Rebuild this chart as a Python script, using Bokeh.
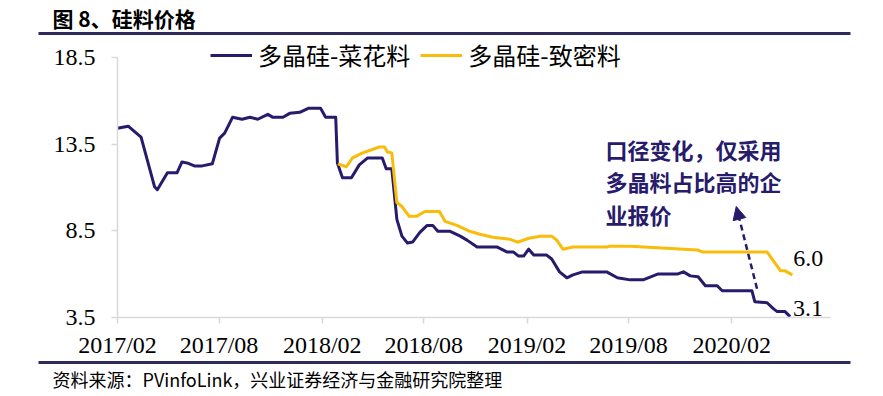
import pandas as pd
from bokeh.plotting import figure
from bokeh.layouts import column, row
from bokeh.core.properties import value
from bokeh.models import (FixedTicker, DatetimeTickFormatter, Label, Legend, LegendItem,
                          Arrow, NormalHead, Range1d)
from bokeh.embed import file_html
from bokeh.resources import INLINE

# ---------------- data ----------------
series_names = ["多晶硅-菜花料", "多晶硅-致密料"]

flake_dates = [
    "2017-02-01", "2017-02-20", "2017-03-15", "2017-04-08", "2017-04-13", "2017-05-01",
    "2017-05-18", "2017-05-27", "2017-06-06", "2017-06-18", "2017-07-02", "2017-07-20",
    "2017-08-02", "2017-08-11", "2017-08-25", "2017-09-11", "2017-09-25", "2017-10-09",
    "2017-10-27", "2017-11-05", "2017-11-23", "2017-12-05", "2017-12-23", "2018-01-07",
    "2018-01-29", "2018-02-07", "2018-02-25", "2018-02-28", "2018-03-09", "2018-03-25",
    "2018-04-08", "2018-04-23", "2018-05-19", "2018-05-26", "2018-06-05", "2018-06-14",
    "2018-06-23", "2018-07-03", "2018-07-12", "2018-07-25", "2018-08-07", "2018-08-17",
    "2018-08-26", "2018-09-17", "2018-10-05", "2018-10-17", "2018-11-04", "2018-12-10",
    "2018-12-28", "2019-01-08", "2019-01-17", "2019-01-26", "2019-02-04", "2019-02-13",
    "2019-03-08", "2019-03-17", "2019-03-31", "2019-04-13", "2019-04-24", "2019-05-11",
    "2019-06-23", "2019-07-12", "2019-08-04", "2019-08-27", "2019-09-23", "2019-10-28",
    "2019-11-07", "2019-11-19", "2019-12-03", "2019-12-16", "2020-01-06", "2020-01-15",
    "2020-03-08", "2020-03-13", "2020-04-04", "2020-04-15", "2020-04-22", "2020-05-06",
    "2020-05-15",
]
flake_values = [
    14.41, 14.53, 13.90, 11.04, 10.87, 11.84,
    11.84, 12.47, 12.40, 12.24, 12.24, 12.36,
    13.84, 14.13, 15.04, 14.93, 15.04, 14.93,
    15.21, 15.04, 15.04, 15.27, 15.33, 15.56,
    15.56, 15.04, 15.04, 12.41, 11.56, 11.56,
    12.30, 12.70, 12.70, 12.07, 12.07, 9.16,
    8.19, 7.79, 7.85, 8.41, 8.81, 8.81,
    8.47, 8.47, 8.19, 7.96, 7.56, 7.56,
    7.27, 7.27, 7.04, 7.04, 7.44, 7.10,
    7.10, 6.87, 6.13, 5.79, 5.96, 6.13,
    6.13, 5.79, 5.67, 5.67, 6.01, 6.01,
    6.13, 5.90, 5.85, 5.33, 5.33, 5.04,
    5.04, 4.41, 4.35, 4.01, 3.84, 3.84,
    3.55,
]

dense_dates = [
    "2018-03-01", "2018-03-16", "2018-03-27", "2018-04-14", "2018-05-14", "2018-05-23",
    "2018-05-28", "2018-06-05", "2018-06-14", "2018-06-23", "2018-07-06", "2018-07-19",
    "2018-08-03", "2018-08-29", "2018-09-08", "2018-09-29", "2018-10-22", "2018-11-09",
    "2018-12-02", "2019-01-02", "2019-01-15", "2019-02-04", "2019-02-25", "2019-03-17",
    "2019-03-26", "2019-04-06", "2019-04-24", "2019-06-23", "2019-06-28", "2019-08-04",
    "2019-12-02", "2019-12-12", "2020-04-04", "2020-04-13", "2020-04-28", "2020-05-06",
    "2020-05-19",
]
dense_values = [
    12.36, 12.19, 12.70, 12.99, 13.33, 13.33,
    13.04, 12.99, 10.13, 9.90, 9.33, 9.33,
    9.61, 9.61, 9.04, 8.81, 8.47, 8.30,
    8.13, 8.01, 7.84, 8.07, 8.19, 8.19,
    7.96, 7.44, 7.56, 7.56, 7.61, 7.61,
    7.39, 7.27, 7.27, 6.87, 6.19, 6.19,
    5.96,
]

end_labels = ["3.1", "6.0"]
x_tick_labels = ["2017/02", "2017/08", "2018/02", "2018/08", "2019/02", "2019/08", "2020/02"]
y_ticks = [3.5, 8.5, 13.5, 18.5]
title_text = "图 8、硅料价格"
source_text = "资料来源：PVinfoLink，兴业证券经济与金融研究院整理"
note_lines = ["口径变化，仅采用", "多晶料占比高的企", "业报价"]

# ---------------- styling ----------------
NAVY = "#271B6B"
GOLD = "#F9BC0B"
RULE = "#2F2C5C"
AXIS = "#D9D9D9"
CJK = "Noto Sans CJK SC"
SERIF = "Liberation Serif"
W = 883
TOP_H = 36
MAIN_H = 324
BOT_H = 36


def ms(s):
    return pd.Timestamp(s).value // 10**6


def blank(height):
    f = figure(width=W, height=height, output_backend="svg", toolbar_location=None,
               x_axis_location=None, y_axis_location=None,
               x_range=Range1d(0, W), y_range=Range1d(height, 0))
    f.min_border = 0
    f.outline_line_color = None
    f.grid.visible = False
    return f


# ---------- header: title + rule ----------
top = blank(TOP_H)
top.text(x=[52], y=[17], text=[title_text], text_baseline="middle",
         text_font=value(CJK), text_font_size="21px", text_font_style="bold",
         text_color="black")
top.segment(x0=[38], y0=[33], x1=[850], y1=[33], line_color=RULE, line_width=3)

# ---------- main chart ----------
p = figure(width=W, height=MAIN_H, x_axis_type="datetime", output_backend="svg",
           toolbar_location=None, title=None,
           x_range=Range1d(ms("2017-02-01"), ms("2020-07-26")),
           y_range=Range1d(y_ticks[0], 19.70))
p.min_border_left = 117
p.min_border_right = 53
p.min_border_top = 0
p.min_border_bottom = 41
p.outline_line_color = None
p.xgrid.visible = False
p.ygrid.visible = False

r1 = p.line(pd.to_datetime(flake_dates), flake_values, line_color=NAVY, line_width=3,
            line_join="round")
r2 = p.line(pd.to_datetime(dense_dates), dense_values, line_color=GOLD, line_width=3,
            line_join="round")

p.xaxis.ticker = FixedTicker(ticks=[ms(t.replace("/", "-") + "-01") for t in x_tick_labels])
p.xaxis.formatter = DatetimeTickFormatter(months="%Y/%m", days="%Y/%m", years="%Y/%m")
p.yaxis.ticker = FixedTicker(ticks=y_ticks)
p.yaxis.bounds = (y_ticks[0], y_ticks[-1])
for ax in (p.xaxis, p.yaxis):
    ax.axis_line_color = AXIS
    ax.axis_line_width = 1.5
    ax.major_tick_line_color = AXIS
    ax.major_tick_line_width = 1.5
    ax.major_tick_out = 6
    ax.major_tick_in = 0
    ax.minor_tick_line_color = None
    ax.major_label_text_font = SERIF
    ax.major_label_text_font_size = "24px"
    ax.major_label_text_color = "black"
p.yaxis.major_label_standoff = 16
p.xaxis.major_label_standoff = 8

legend = Legend(items=[LegendItem(label=series_names[0], renderers=[r1]),
                       LegendItem(label=series_names[1], renderers=[r2])],
                orientation="horizontal", location=(93, 245), padding=0, margin=0,
                spacing=10, glyph_width=42, glyph_height=24, label_height=24,
                label_standoff=6, label_text_font=CJK, label_text_font_size="24px",
                label_text_color="black",
                border_line_alpha=0, background_fill_alpha=0)
p.add_layout(legend, "center")

p.add_layout(Label(x=ms(flake_dates[-1]), y=flake_values[-1], text=end_labels[0],
                   x_offset=3, y_offset=8, text_baseline="middle", text_font=SERIF,
                   text_font_size="24px", text_color="black"))
p.add_layout(Label(x=ms(dense_dates[-1]), y=dense_values[-1], text=end_labels[1],
                   x_offset=1, y_offset=16, text_baseline="middle", text_font=SERIF,
                   text_font_size="24px", text_color="black"))

for i, line in enumerate(note_lines):
    p.add_layout(Label(x=605, y=112 + i * 32.5, x_units="canvas", y_units="canvas",
                       text=line, text_baseline="middle", text_font=CJK,
                       text_font_size="22px", text_font_style="bold", text_color=NAVY))
p.add_layout(Arrow(end=NormalHead(size=13, fill_color=NAVY, line_color=NAVY),
                   x_start=ms("2020-03-17"), y_start=5.16,
                   x_end=ms("2020-02-09"), y_end=9.9,
                   line_color=NAVY, line_width=2.5, line_dash="6 4"))

# ---------- footer: rule + source ----------
bottom = blank(BOT_H)
bottom.segment(x0=[38], y0=[2], x1=[850], y1=[2], line_color=RULE, line_width=3)
bottom.text(x=[52], y=[18], text=[source_text], text_baseline="middle",
            text_font=value(CJK), text_font_size="18px", text_color="black")

layout = column(row(top), row(p), row(bottom), spacing=0)
open("out.html", "w").write(file_html(layout, INLINE))
